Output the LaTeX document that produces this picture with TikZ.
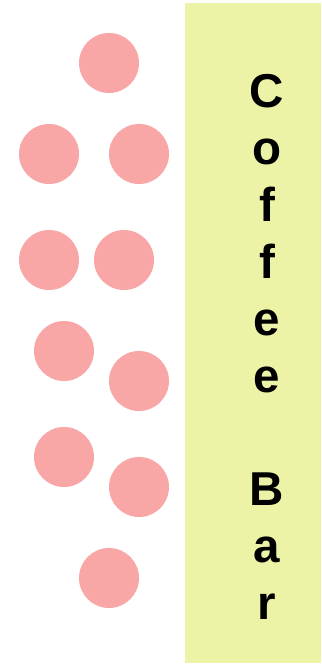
\documentclass[tikz,border=0pt]{standalone}
\usepackage{fontspec}
\setmainfont{Liberation Sans}
\definecolor{guestpink}{RGB}{249,166,166}
\definecolor{barlime}{RGB}{237,243,166}
\tikzset{
  guest/.style={circle, fill=guestpink, minimum size=1.5cm, inner sep=0pt},
}
\begin{document}
\begin{tikzpicture}[x=0.025cm, y=-0.025cm]
\useasboundingbox (0,0) rectangle (322,664);
% Barra
\fill[barlime] (185,3) rectangle (321,663);
\node[font=\bfseries\fontsize{33.8}{40.5}\selectfont, align=center, inner sep=0pt] (bar) at (267,347) {C\\o\\f\\f\\e\\e\\ \\B\\a\\r};

% Clientes
\node[guest] (g1) at (109,63) {};
\node[guest] (g2) at (49,154) {};
\node[guest] (g3) at (139,154) {};
\node[guest] (g4) at (49,260) {};
\node[guest] (g5) at (124,260) {};
\node[guest] (g6) at (64,351) {};
\node[guest] (g7) at (139,381) {};
\node[guest] (g8) at (64,457) {};
\node[guest] (g9) at (139,487) {};
\node[guest] (g10) at (109,578) {};
\end{tikzpicture}
\end{document}
